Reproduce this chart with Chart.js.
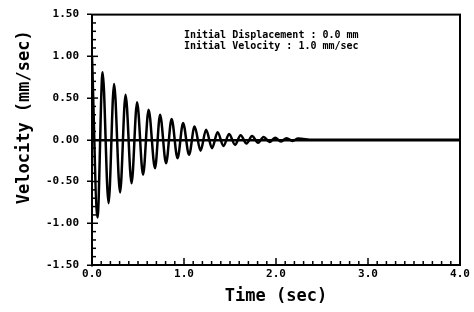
<!DOCTYPE html>
<html>
<head>
<meta charset="utf-8">
<script src="https://cdn.jsdelivr.net/npm/chart.js@4"></script>
<style>
  html, body { margin: 0; padding: 0; background: #fff; }
  #wrap { width: 474px; height: 312px; }
</style>
</head>
<body>
<div id="wrap"><canvas id="velocityChart"></canvas></div>
<script>
// values (peaks and troughs of the decay)
var timeSec = [0, 0.06, 0.115, 0.18, 0.24, 0.305, 0.365, 0.43, 0.49, 0.555, 0.615, 0.685, 0.74,
    0.805, 0.865, 0.93, 0.99, 1.055, 1.115, 1.18, 1.24, 1.305, 1.365, 1.43, 1.49, 1.555, 1.615,
    1.68, 1.74, 1.805, 1.865, 1.93, 1.99, 2.055, 2.115, 2.18, 2.24, 2.4, 4.0];
var velocity = [1.0, -0.93, 0.81, -0.76, 0.67, -0.63, 0.54, -0.52, 0.45, -0.42, 0.36, -0.34, 0.30,
    -0.28, 0.25, -0.22, 0.20, -0.18, 0.16, -0.13, 0.12, -0.10, 0.09, -0.075, 0.07, -0.06, 0.055,
    -0.045, 0.045, -0.035, 0.035, -0.025, 0.025, -0.02, 0.02, -0.015, 0.015, 0, 0];
var notes = ['Initial Displacement : 0.0 mm', 'Initial Velocity : 1.0 mm/sec'];
var yTitle = 'Velocity (mm/sec)';

var points = timeSec.map(function (t, i) { return { x: t, y: velocity[i] }; });

var frame = {
    id: 'frame',
    afterDraw: function (chart) {
        var c = chart.ctx, a = chart.chartArea;
        var xs = chart.scales.x, ys = chart.scales.y;
        c.save();
        c.strokeStyle = '#000';
        c.lineWidth = 2;
        c.strokeRect(a.left, a.top, a.right - a.left, a.bottom - a.top);
        c.lineWidth = 1.5;
        // minor ticks inside, every 0.1
        for (var i = 1; i < 40; i++) {
            var px = xs.getPixelForValue(i / 10);
            var len = i % 10 === 0 ? 7 : 4;
            c.beginPath(); c.moveTo(px, a.bottom); c.lineTo(px, a.bottom - len); c.stroke();
        }
        for (var j = -14; j < 15; j++) {
            var py = ys.getPixelForValue(j / 10);
            var l2 = j % 5 === 0 ? 6 : 4;
            c.beginPath(); c.moveTo(a.left, py); c.lineTo(a.left + l2, py); c.stroke();
        }
        c.fillStyle = '#000';
        c.font = 'bold 10px "DejaVu Sans Mono"';
        c.textBaseline = 'middle';
        var tx = xs.getPixelForValue(1.0);
        c.fillText(notes[0], tx, ys.getPixelForValue(1.25));
        c.fillText(notes[1], tx, ys.getPixelForValue(1.12));
        // y axis title, sits a bit above the middle like the original
        c.font = 'bold 17px "DejaVu Sans Mono"';
        c.textAlign = 'center';
        c.translate(a.left - 67, ys.getPixelForValue(0.27));
        c.rotate(-Math.PI / 2);
        c.fillText(yTitle, 0, 0);
        c.restore();
    }
};

var ctx = document.getElementById('velocityChart').getContext('2d');
var velocityChart = new Chart(ctx, {
    type: 'line',
    data: {
        datasets: [{
            label: 'Velocity',
            data: points,
            borderColor: '#000',
            borderWidth: 2.5,
            pointRadius: 0,
            cubicInterpolationMode: 'monotone',
            fill: false
        }]
    },
    options: {
        responsive: true,
        maintainAspectRatio: false,
        animation: false,
        layout: { padding: { top: 10, right: 14, left: 0, bottom: 0 } },
        plugins: { legend: { display: false }, tooltip: { enabled: false } },
        scales: {
            x: {
                type: 'linear',
                min: 0,
                max: 4,
                afterFit: function (s) { s.height = 47; },
                border: { color: '#000', width: 2 },
                grid: { drawOnChartArea: false, drawTicks: false },
                ticks: {
                    stepSize: 1,
                    padding: 3,
                    color: '#000',
                    font: { family: 'DejaVu Sans Mono', weight: 'bold', size: 11 },
                    callback: function (v) { return v.toFixed(1); }
                },
                title: {
                    display: true,
                    text: 'Time (sec)',
                    color: '#000',
                    font: { family: 'DejaVu Sans Mono', weight: 'bold', size: 17 },
                    padding: { top: 0, bottom: 5 }
                }
            },
            y: {
                min: -1.5,
                max: 1.5,
                afterFit: function (s) { s.width = 92; },
                border: { color: '#000', width: 2 },
                grid: {
                    color: function (c) { return c.tick && c.tick.value === 0 ? '#000' : 'rgba(0,0,0,0)'; },
                    lineWidth: 2.5,
                    tickColor: '#000',
                    tickLength: 5,
                    tickWidth: 1.5
                },
                ticks: {
                    stepSize: 0.5,
                    padding: 8,
                    color: '#000',
                    font: { family: 'DejaVu Sans Mono', weight: 'bold', size: 11 },
                    callback: function (v) { return v.toFixed(2); }
                }
            }
        }
    },
    plugins: [frame]
});
</script>
</body>
</html>
